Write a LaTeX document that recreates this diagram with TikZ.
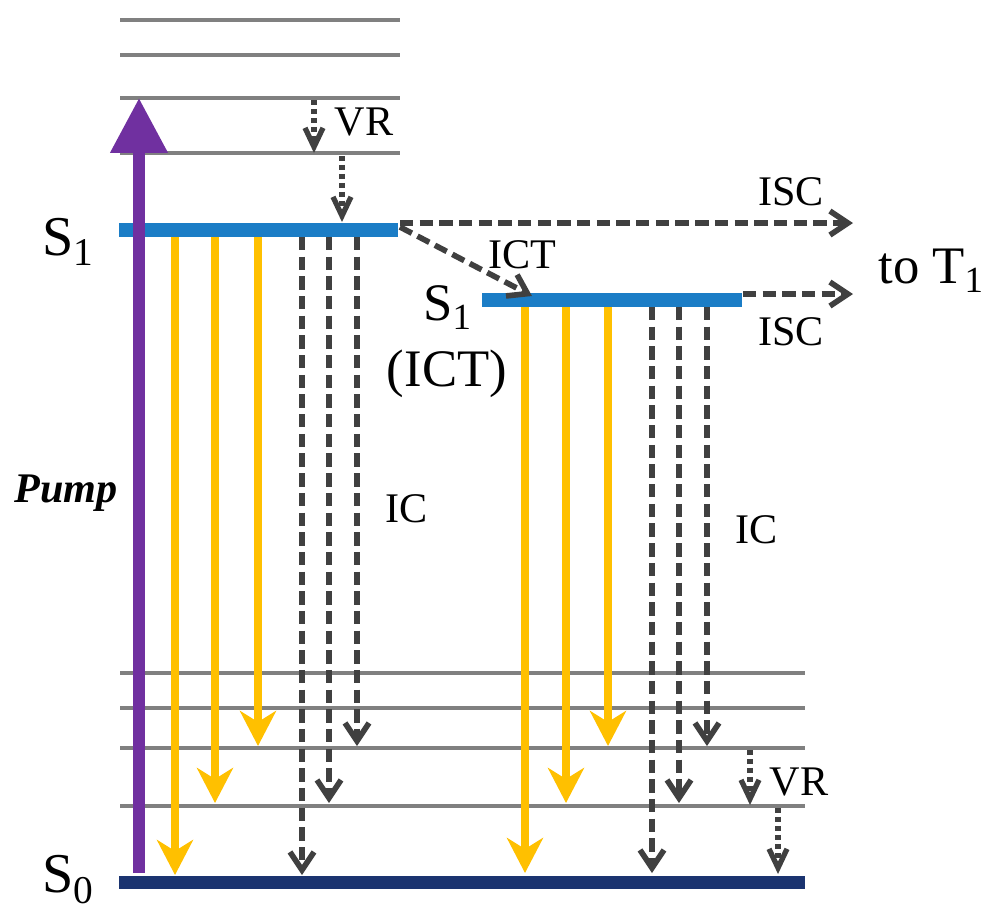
\documentclass[tikz,border=0pt]{standalone}
\usepackage{fontspec}
\setmainfont{Liberation Serif}
\usetikzlibrary{arrows.meta}
\definecolor{pumpviolet}{HTML}{7030A0}
\definecolor{fluoyellow}{HTML}{FFC000}
\definecolor{levelblue}{HTML}{1B7DC6}
\definecolor{groundnavy}{HTML}{1B3470}
\definecolor{vibgray}{HTML}{808080}
\definecolor{nrgray}{HTML}{404040}

\begin{document}
\begin{tikzpicture}[x=0.02cm, y=-0.02cm,
  vib/.style={line width=2.7pt, vibgray},
  bar/.style={line width=7.8pt, levelblue},
  pump/.style={line width=6.3pt, pumpviolet, -{Triangle[length=1.1cm, width=1.1cm]}},
  emit/.style={line width=4.2pt, fluoyellow, -{Stealth[length=0.7cm, width=0.72cm, inset=0.22cm]}},
  ic/.style={line width=3.2pt, nrgray, dash pattern=on 7.6pt off 3.6pt,
             -{Straight Barb[length=0.36cm, width=0.48cm]}},
  vr/.style={line width=3pt, nrgray, dash pattern=on 2.8pt off 2.3pt,
             -{Straight Barb[length=0.38cm, width=0.36cm]}},
  lbl/.style={font=\fontsize{24}{28}\selectfont, inner sep=0pt, anchor=base},
  state/.style={font=\fontsize{32}{36}\selectfont, inner sep=0pt, anchor=base west},
]
\useasboundingbox (0,0) rectangle (987,914);

% vibrational levels
\draw[vib] (120,20) -- (400,20);
\draw[vib] (120,55) -- (400,55);
\draw[vib] (120,98) -- (400,98);
\draw[vib] (120,153) -- (400,153);
\draw[vib] (120,673) -- (805,673);
\draw[vib] (120,708) -- (805,708);
\draw[vib] (120,748) -- (805,748);
\draw[vib] (120,806) -- (805,806);

% electronic levels
\draw[bar] (119,230) -- (398,230);
\draw[bar] (482,300) -- (742,300);
\draw[bar, groundnavy, line width=7.4pt] (119,882) -- (805,882);

\coordinate (pfoot) at (139,873);
\coordinate (ptop) at (139,98);
\draw[pump] (pfoot) -- (ptop);

% S1 decay
\coordinate (y1) at (175,237);  \coordinate (yy1) at (175,875);
\coordinate (y2) at (215,237);  \coordinate (yy2) at (215,803);
\coordinate (y3) at (258,237);  \coordinate (yy3) at (258,746);
\coordinate (d1) at (302,237);  \coordinate (dd1) at (302,875);
\coordinate (d2) at (329,237);  \coordinate (dd2) at (329,803);
\coordinate (d3) at (357,237);  \coordinate (dd3) at (357,746);
% S1(ICT) decay
\coordinate (y4) at (525,307);  \coordinate (yy4) at (525,873);
\coordinate (y5) at (566,307);  \coordinate (yy5) at (566,803);
\coordinate (y6) at (608,307);  \coordinate (yy6) at (608,746);
\coordinate (d4) at (652,307);  \coordinate (dd4) at (652,873);
\coordinate (d5) at (679,307);  \coordinate (dd5) at (679,803);
\coordinate (d6) at (707,307);  \coordinate (dd6) at (707,746);

\draw[emit] (y1) -- (yy1);
\draw[emit] (y2) -- (yy2);
\draw[emit] (y3) -- (yy3);
\draw[emit] (y4) -- (yy4);
\draw[emit] (y5) -- (yy5);
\draw[emit] (y6) -- (yy6);
\draw[ic] (d1) -- (dd1);
\draw[ic] (d2) -- (dd2);
\draw[ic] (d3) -- (dd3);
\draw[ic] (d4) -- (dd4);
\draw[ic] (d5) -- (dd5);
\draw[ic] (d6) -- (dd6);

% relaxation
\coordinate (r1) at (314,100);  \coordinate (rr1) at (314,153);
\coordinate (r2) at (342,156);  \coordinate (rr2) at (342,222);
\coordinate (r3) at (750,750);  \coordinate (rr3) at (750,805);
\coordinate (r4) at (778,808);  \coordinate (rr4) at (778,874);
\draw[vr] (r1) -- (rr1);
\draw[vr] (r2) -- (rr2);
\draw[vr] (r3) -- (rr3);
\draw[vr] (r4) -- (rr4);

% ISC / ICT
\coordinate (s1end) at (400,223);
\coordinate (ictstart) at (400,227);
\coordinate (isc1) at (853,223);
\coordinate (ictend) at (532,296);
\coordinate (s1ictend) at (743,294);
\coordinate (isc2) at (853,294);
\draw[ic] (s1end) -- (isc1);
\draw[ic] (ictstart) -- (ictend);
\draw[ic] (s1ictend) -- (isc2);

\node[lbl] (vrtop) at (364,135) {VR};
\node[lbl] (vrbot) at (799,795) {VR};
\node[lbl] (isctop) at (791,205) {ISC};
\node[lbl] (iscbot) at (791,345) {ISC};
\node[lbl] (ictlbl) at (522,268) {ICT};
\node[lbl] (icleft) at (407,522) {IC};
\node[lbl] (icright) at (757,543) {IC};
\node[lbl, font=\fontsize{24}{28}\selectfont\bfseries\itshape] (pumplbl) at (66,502) {Pump};

\node[state] (s1lbl) at (42,255) {S\textsubscript{1}};
\node[state] (s0lbl) at (42,892) {S\textsubscript{0}};
\node[state, font=\fontsize{30}{34}\selectfont] (tot1) at (878,283) {to T\textsubscript{1}};
\node[state, font=\fontsize{30}{34}\selectfont] (s1ictlbl) at (423,320) {S\textsubscript{1}};
\node[lbl, font=\fontsize{30}{34}\selectfont] (ictstate) at (447,386) {(ICT)};

\end{tikzpicture}
\end{document}
